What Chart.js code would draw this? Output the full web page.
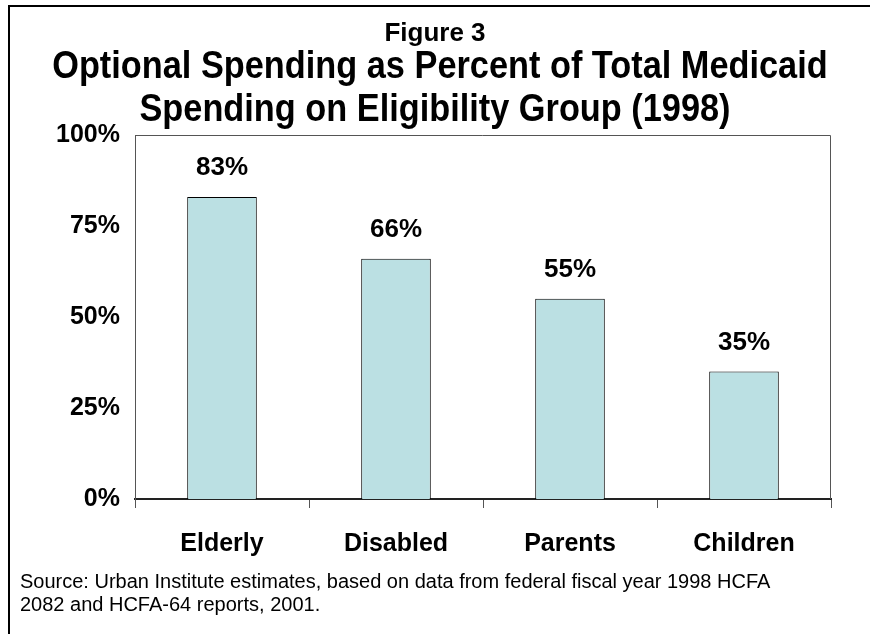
<!DOCTYPE html>
<html>
<head>
<meta charset="utf-8">
<script src="https://cdn.jsdelivr.net/npm/chart.js@4.4.1/dist/chart.umd.min.js"></script>
<style>
  html, body { margin: 0; padding: 0; background: #fff; }
  #wrap { position: relative; width: 870px; height: 634px; overflow: hidden; }
  #frame { position: absolute; left: 8px; top: 5px; width: 900px; height: 700px;
           border-left: 2px solid #000; border-top: 2px solid #000; }
  .title { position: absolute; left: 0; width: 870px; text-align: center; white-space: nowrap;
           font-family: "Liberation Sans", Arial, sans-serif;
           font-weight: bold; color: #000; line-height: 1; transform-origin: 50% 50%; }
  #source { position: absolute; left: 20px; top: 570px; font-family: "Liberation Sans", Arial, sans-serif;
            font-size: 20px; line-height: 23px; color: #000; }
  canvas { position: absolute; left: 0; top: 0; }
</style>
</head>
<body>
<div id="wrap">
  <div id="frame"></div>
  <canvas id="chart" width="870" height="634"></canvas>
  <div class="title" style="top:19px;font-size:26px;">Figure 3</div>
  <div class="title" style="top:45px;font-size:39px;transform:scaleX(0.88);">Optional Spending as Percent of Total Medicaid</div>
  <div class="title" style="top:88px;font-size:39px;transform:scaleX(0.88);">Spending on Eligibility Group (1998)</div>
  <div id="source">Source: Urban Institute estimates, based on data from federal fiscal year 1998 HCFA<br>2082 and HCFA-64 reports, 2001.</div>
</div>
<script>
// data
const categories = ["Elderly", "Disabled", "Parents", "Children"];
const optionalShare = [83, 66, 55, 35];
const yTicks = [0, 25, 50, 75, 100];

const boldFont = "'Liberation Sans', Arial, sans-serif";

// value labels above the bars
const barLabels = {
  id: "barLabels",
  afterDatasetsDraw(chart) {
    const ctx = chart.ctx;
    const meta = chart.getDatasetMeta(0);
    ctx.save();
    ctx.font = "bold 26px " + boldFont;
    ctx.fillStyle = "#000";
    ctx.textAlign = "center";
    ctx.textBaseline = "bottom";
    meta.data.forEach((bar, i) => {
      ctx.fillText(optionalShare[i] + "%", bar.x, bar.y - 16);
    });
    ctx.restore();
  }
};

// thin frame on top and right of the plot area
const plotFrame = {
  id: "plotFrame",
  beforeDatasetsDraw(chart) {
    const a = chart.chartArea;
    const ctx = chart.ctx;
    ctx.save();
    ctx.strokeStyle = "#555";
    ctx.lineWidth = 1;
    ctx.beginPath();
    ctx.moveTo(a.left, a.top + 0.5);
    ctx.lineTo(a.right - 0.5, a.top + 0.5);
    ctx.lineTo(a.right - 0.5, a.bottom);
    ctx.stroke();
    ctx.restore();
  }
};

new Chart(document.getElementById("chart"), {
  type: "bar",
  data: {
    labels: categories,
    datasets: [{
      data: optionalShare,
      backgroundColor: "#bbe0e3",
      borderColor: "#000",
      borderWidth: 1,
      barPercentage: 0.8,
      categoryPercentage: 0.5
    }]
  },
  options: {
    responsive: false,
    animation: false,
    layout: { padding: { left: 0, right: 39, top: 135, bottom: 0 } },
    plugins: { legend: { display: false }, tooltip: { enabled: false } },
    scales: {
      x: {
        grid: { drawOnChartArea: false, drawTicks: true, tickLength: 9, color: "#555", offset: true },
        border: { color: "#222", width: 2 },
        ticks: { color: "#000", padding: 21, font: { family: boldFont, size: 25, weight: "bold" } },
        afterFit(scale) { scale.height = 634 - 499; }
      },
      y: {
        min: 0,
        max: 100,
        afterBuildTicks(scale) { scale.ticks = yTicks.map(v => ({ value: v })); },
        grid: { display: false, drawTicks: false },
        border: { color: "#555", width: 1 },
        ticks: {
          color: "#000",
          padding: 15,
          font: { family: boldFont, size: 25, weight: "bold" },
          callback: v => v + "%"
        },
        afterFit(scale) { scale.width = 135; }
      }
    }
  },
  plugins: [plotFrame, barLabels]
});
</script>
</body>
</html>
